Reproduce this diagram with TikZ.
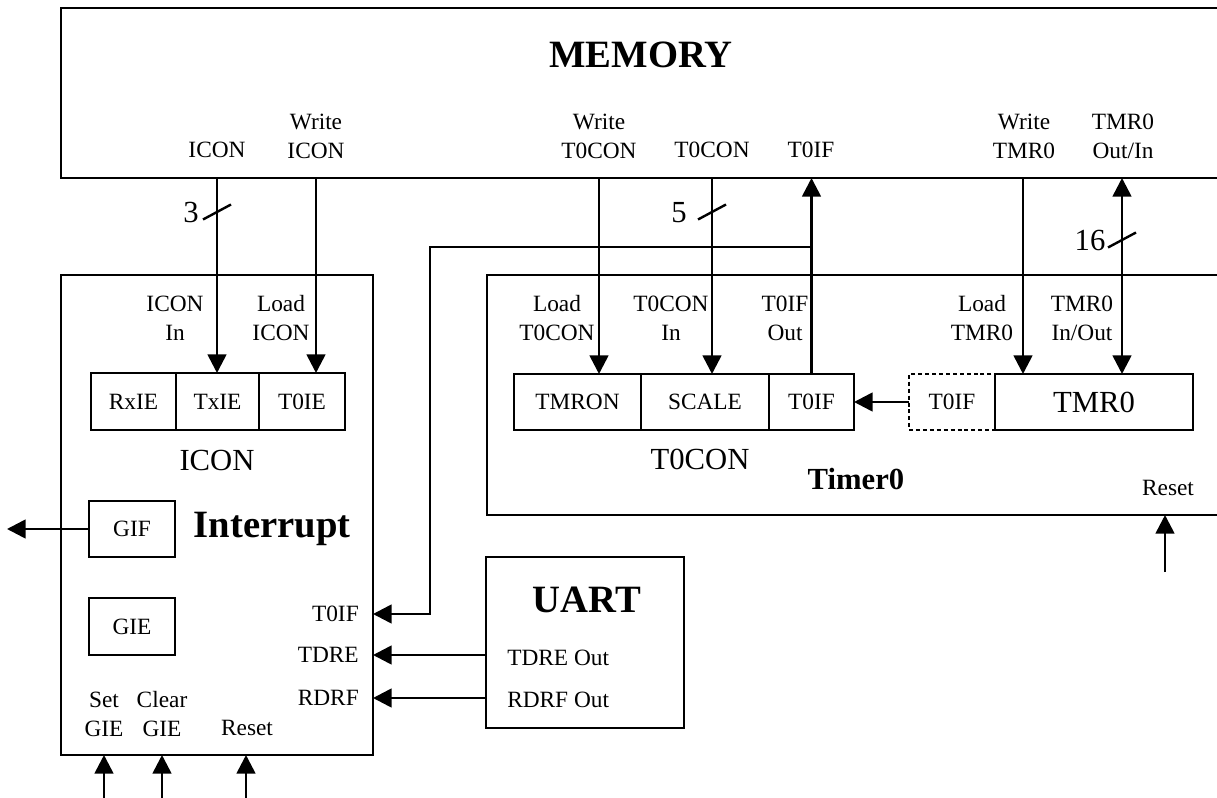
\documentclass[tikz,border=0pt]{standalone}
\usepackage{fontspec}
\setmainfont{Liberation Serif}
\usetikzlibrary{arrows.meta,fit}

\tikzset{
  box/.style={draw, line width=2pt, inner sep=0pt, outer sep=0pt},
  lbl/.style={inner sep=0.75pt, align=center, font=\fontsize{17.5}{21.75}\selectfont},
  cell/.style={box, label={[lbl]center:#1}},
  big/.style={inner sep=0.75pt, font=\fontsize{29}{34}\selectfont\bfseries},
  regname/.style={inner sep=0.75pt, font=\fontsize{23}{27}\selectfont},
  wire/.style={line width=2pt},
  arr/.style={wire, -{Triangle[length=14pt,width=14pt]}},
  slash/.style={line width=1.8pt},
}

\begin{document}
\begin{tikzpicture}[x=0.75pt,y=0.75pt,yscale=-1,xscale=1]
        \useasboundingbox (0,0) rectangle (1217,798);
        \clip (0,0) rectangle (1217,798);

        %Blocks
        \node [box, fit={(61,8) (1235,178)}] (mem) {};
        \node [box, fit={(61,275) (373,755)}] (intr) {};
        \node [box, fit={(487,275) (1235,515)}] (tmr) {};
        \node [box, fit={(486,557) (684,728)}] (uart) {};

        %ICON register
        \node [cell=RxIE, fit={(91,373) (176,430)}] (rxie) {};
        \node [cell=TxIE, fit={(176,373) (259,430)}] (txie) {};
        \node [cell=T0IE, fit={(259,373) (345,430)}] (t0ie) {};
        \node [cell=GIF, fit={(89,501) (175,557)}] (gif) {};
        \node [cell=GIE, fit={(89,598) (175,655)}] (gie) {};

        %T0CON register and TMR0
        \node [cell=TMRON, fit={(514,374) (641,430)}] (tmron) {};
        \node [cell=SCALE, fit={(641,374) (769,430)}] (scale) {};
        \node [cell=T0IF, fit={(769,374) (854,430)}] (t0if) {};
        \node [cell=T0IF, dash pattern=on 3pt off 2.2pt, fit={(909,374) (995,430)}] (t0ifd) {};
        \node [box, fit={(995,374) (1193,430)}, label={[regname]center:TMR0}] (tmr0) {};

        % Text Node
        \draw (641,55) node [big] (memTitle) {MEMORY};
        \draw (272,529) node [big] (intrTitle) {Interrupt};
        \draw (587,600) node [big] (uartTitle) {UART};
        \draw (856,479) node [regname, font=\fontsize{23}{27}\selectfont\bfseries] (tmrTitle) {Timer0};
        \draw (217,460) node [regname] (iconName) {ICON};
        \draw (700,459) node [regname] (t0conName) {T0CON};

        % Text Node
        \draw (217,150) node [lbl] (memIcon) {ICON};
        \draw (316,136) node [lbl] (memWrIcon) {Write\\ICON};
        \draw (599,136) node [lbl] (memWrT0con) {Write\\T0CON};
        \draw (712,150) node [lbl] (memT0con) {T0CON};
        \draw (811,150) node [lbl] (memT0if) {T0IF};
        \draw (1024,136) node [lbl] (memWrTmr) {Write\\TMR0};
        \draw (1123,136) node [lbl] (memTmrIo) {TMR0\\Out/In};

        % Text Node
        \draw (175,318) node [lbl] (inIcon) {ICON\\In};
        \draw (281,318) node [lbl] (ldIcon) {Load\\ICON};
        \draw (360,614) node [lbl, anchor=east] (inT0if) {T0IF};
        \draw (360,655) node [lbl, anchor=east] (inTdre) {TDRE};
        \draw (360,698) node [lbl, anchor=east] (inRdrf) {RDRF};
        \draw (104,714) node [lbl] (setGie) {Set\\GIE};
        \draw (162,714) node [lbl] (clrGie) {Clear\\GIE};
        \draw (247,728) node [lbl] (intrRst) {Reset};

        % Text Node
        \draw (557,318) node [lbl] (ldT0con) {Load\\T0CON};
        \draw (671,318) node [lbl] (inT0con) {T0CON\\In};
        \draw (785,318) node [lbl] (outT0if) {T0IF\\Out};
        \draw (982,318) node [lbl] (ldTmr) {Load\\TMR0};
        \draw (1082,318) node [lbl] (ioTmr) {TMR0\\In/Out};
        \draw (1168,488) node [lbl] (tmrRst) {Reset};
        \draw (506,658) node [lbl, anchor=west] (outTdre) {TDRE Out};
        \draw (506,700) node [lbl, anchor=west] (outRdrf) {RDRF Out};

        %Ports
        \coordinate (pIconIn) at (217,373);
        \coordinate (pIconLd) at (316,373);
        \coordinate (pT0conLd) at (599,374);
        \coordinate (pT0conIn) at (712,374);
        \coordinate (pTmrLd) at (1023,374);
        \coordinate (pTmrIo) at (1122,374);
        \coordinate (tap) at (811,247);
        \coordinate (bend) at (430,247);
        \coordinate (irqT0) at (373,614);
        \coordinate (irqTdre) at (373,655);
        \coordinate (irqRdrf) at (373,698);
        \coordinate (gifOut) at (7,529);
        \coordinate (tmrRstIn) at (1165,572);
        \coordinate (setIn) at (104,798);
        \coordinate (clrIn) at (162,798);
        \coordinate (rstIn) at (246,798);

        %Connectors
        \draw [arr] (pIconIn |- mem.south) -- (pIconIn);
        \draw [arr] (pIconLd |- mem.south) -- (pIconLd);
        \draw [arr] (pT0conLd |- mem.south) -- (pT0conLd);
        \draw [arr] (pT0conIn |- mem.south) -- (pT0conIn);
        \draw [arr] (pTmrLd |- mem.south) -- (pTmrLd);
        \draw [wire, {Triangle[length=14pt,width=14pt]}-{Triangle[length=14pt,width=14pt]}] (pTmrIo |- mem.south) -- (pTmrIo);
        \draw [arr] (t0if.north) -- (t0if.north |- mem.south);
        \draw [arr] (tap) -- (bend) |- (irqT0);
        \draw [arr] (t0ifd.west) -- (t0if.east);
        \draw [arr] (uart.west |- irqTdre) -- (irqTdre);
        \draw [arr] (uart.west |- irqRdrf) -- (irqRdrf);
        \draw [arr] (gif.west) -- (gifOut);
        \draw [arr] (tmrRstIn) -- (tmrRstIn |- tmr.south);
        \draw [arr] (setIn) -- (setIn |- intr.south);
        \draw [arr] (clrIn) -- (clrIn |- intr.south);
        \draw [arr] (rstIn) -- (rstIn |- intr.south);

        %Bus widths
        \coordinate (bus3) at (217,212);
        \coordinate (bus5) at (712,212);
        \coordinate (bus16) at (1122,240);
        \draw [slash] ([shift={(-14,7.5)}]bus3) -- ([shift={(14,-7.5)}]bus3);
        \draw [slash] ([shift={(-14,7.5)}]bus5) -- ([shift={(14,-7.5)}]bus5);
        \draw [slash] ([shift={(-14,7.5)}]bus16) -- ([shift={(14,-7.5)}]bus16);
        \draw (191,213) node [regname] (w3) {3};
        \draw (679,213) node [regname] (w5) {5};
        \draw (1090,240) node [regname] (w16) {16};

\end{tikzpicture}
\end{document}
